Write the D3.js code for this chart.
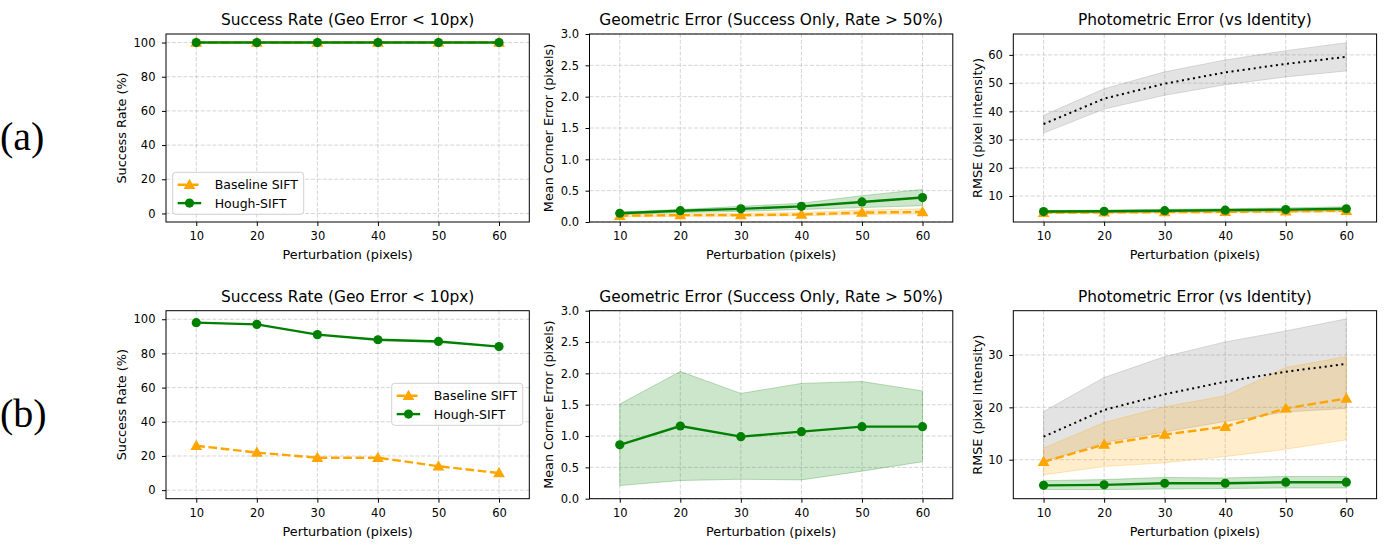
<!DOCTYPE html>
<html>
<head>
<meta charset="utf-8">
<script src="https://cdn.jsdelivr.net/npm/d3@7"></script>
<style>
  html, body { margin: 0; padding: 0; background: #fff; }
  svg { display: block; font-family: "DejaVu Sans", sans-serif; }
</style>
</head>
<body>
<div id="chart"></div>
<script>
const perturb = [10, 20, 30, 40, 50, 60];

// row (a)
const aRateBase = [100, 100, 100, 100, 100, 100];
const aRateHough = [100, 100, 100, 100, 100, 100];

const aGeoBase = [0.10, 0.11, 0.11, 0.12, 0.15, 0.16];
const aGeoBaseLo = [0.08, 0.09, 0.09, 0.10, 0.12, 0.13];
const aGeoBaseHi = [0.12, 0.13, 0.14, 0.15, 0.19, 0.21];
const aGeoHough = [0.14, 0.18, 0.21, 0.25, 0.32, 0.39];
const aGeoHoughLo = [0.12, 0.15, 0.17, 0.20, 0.23, 0.26];
const aGeoHoughHi = [0.16, 0.20, 0.25, 0.30, 0.42, 0.52];

const aPhotoIdent = [35.5, 44.5, 49.8, 53.8, 56.8, 59.3];
const aPhotoIdentLo = [32.3, 40.8, 45.7, 49.4, 52.2, 54.3];
const aPhotoIdentHi = [38.6, 48.0, 54.0, 58.2, 61.5, 64.3];
const aPhotoBase = [4.1, 4.2, 4.3, 4.4, 4.6, 4.8];
const aPhotoBaseLo = [3.8, 3.9, 4.0, 4.0, 4.2, 4.3];
const aPhotoBaseHi = [4.4, 4.5, 4.6, 4.8, 5.0, 5.3];
const aPhotoHough = [4.5, 4.6, 4.8, 5.0, 5.2, 5.5];
const aPhotoHoughLo = [4.1, 4.2, 4.3, 4.5, 4.6, 4.8];
const aPhotoHoughHi = [4.9, 5.0, 5.3, 5.5, 5.8, 6.2];

// row (b)
const bRateBase = [26, 22, 19, 19, 14, 10];
const bRateHough = [98, 97, 91, 88, 87, 84];

const bGeoHough = [0.86, 1.16, 0.99, 1.07, 1.15, 1.15];
const bGeoHoughLo = [0.21, 0.29, 0.31, 0.30, 0.44, 0.59];
const bGeoHoughHi = [1.51, 2.03, 1.68, 1.84, 1.87, 1.72];

const bPhotoIdent = [14.4, 19.5, 22.5, 24.9, 26.8, 28.3];
const bPhotoIdentLo = [9.6, 13.3, 15.3, 17.3, 19.1, 19.8];
const bPhotoIdentHi = [19.2, 25.7, 29.7, 32.5, 34.6, 36.9];
const bPhotoBase = [9.6, 12.9, 14.8, 16.3, 19.8, 21.7];
const bPhotoBaseLo = [7.1, 8.7, 9.4, 10.6, 12.0, 13.8];
const bPhotoBaseHi = [12.2, 17.1, 20.1, 22.2, 27.6, 29.7];
const bPhotoHough = [5.1, 5.2, 5.5, 5.5, 5.7, 5.7];
const bPhotoHoughLo = [4.3, 4.3, 4.4, 4.5, 4.6, 4.6];
const bPhotoHoughHi = [6.0, 6.2, 6.6, 6.5, 6.8, 6.8];

const rowLabels = ["(a)", "(b)"];
const titles = ["Success Rate (Geo Error < 10px)", "Geometric Error (Success Only, Rate > 50%)", "Photometric Error (vs Identity)"];
const yLabels = ["Success Rate (%)", "Mean Corner Error (pixels)", "RMSE (pixel intensity)"];
const xLabel = "Perturbation (pixels)";
const seriesNames = ["Baseline SIFT", "Hough-SIFT"];

const ORANGE = "#ffa500", GREEN = "#008000";

const W = 1391, H = 553;
const svg = d3.select("#chart").append("svg").attr("width", W).attr("height", H);

const colX = [166, 589.5, 1013.3];
const panelW = 363.3;
const rowY = [34, 310.7];
const panelH = 188;

const panels = [
  { row: 0, col: 0, ydom: [-5, 105], yticks: d3.range(0, 101, 20), fmt: d3.format("d"), legend: [172.7, 172.3],
    series: [
      { y: aRateBase, color: ORANGE, kind: "base" },
      { y: aRateHough, color: GREEN, kind: "hough" }] },
  { row: 0, col: 1, ydom: [0, 3], yticks: d3.range(0, 3.01, 0.5), fmt: d3.format(".1f"),
    series: [
      { y: aGeoBase, lo: aGeoBaseLo, hi: aGeoBaseHi, color: ORANGE, kind: "base" },
      { y: aGeoHough, lo: aGeoHoughLo, hi: aGeoHoughHi, color: GREEN, kind: "hough" }] },
  { row: 0, col: 2, ydom: [0.8, 67.4], yticks: d3.range(10, 61, 10), fmt: d3.format("d"),
    series: [
      { y: aPhotoIdent, lo: aPhotoIdentLo, hi: aPhotoIdentHi, color: "#808080", kind: "ident" },
      { y: aPhotoBase, lo: aPhotoBaseLo, hi: aPhotoBaseHi, color: ORANGE, kind: "base" },
      { y: aPhotoHough, lo: aPhotoHoughLo, hi: aPhotoHoughHi, color: GREEN, kind: "hough" }] },
  { row: 1, col: 0, ydom: [-5, 105], yticks: d3.range(0, 101, 20), fmt: d3.format("d"), legend: [391.7, 383.3],
    series: [
      { y: bRateBase, color: ORANGE, kind: "base" },
      { y: bRateHough, color: GREEN, kind: "hough" }] },
  { row: 1, col: 1, ydom: [0, 3], yticks: d3.range(0, 3.01, 0.5), fmt: d3.format(".1f"),
    series: [
      { y: bGeoHough, lo: bGeoHoughLo, hi: bGeoHoughHi, color: GREEN, kind: "hough" }] },
  { row: 1, col: 2, ydom: [2.55, 38.46], yticks: [10, 20, 30], fmt: d3.format("d"),
    series: [
      { y: bPhotoIdent, lo: bPhotoIdentLo, hi: bPhotoIdentHi, color: "#808080", kind: "ident" },
      { y: bPhotoBase, lo: bPhotoBaseLo, hi: bPhotoBaseHi, color: ORANGE, kind: "base" },
      { y: bPhotoHough, lo: bPhotoHoughLo, hi: bPhotoHoughHi, color: GREEN, kind: "hough" }] }
];

const triangle = d3.symbol().type(d3.symbolTriangle).size(60);

function drawMarker(g, kind, color, x, y) {
  if (kind === "hough") {
    g.append("circle").attr("cx", x).attr("cy", y).attr("r", 4.6).attr("fill", color);
  } else if (kind === "base") {
    g.append("path").attr("d", triangle).attr("transform", `translate(${x},${y + 0.8})`).attr("fill", color);
  }
}

panels.forEach(p => {
  const x0 = colX[p.col], y0 = rowY[p.row];
  const g = svg.append("g").attr("transform", `translate(${x0},${y0})`);

  const x = d3.scaleLinear().domain([5, 65]).range([0, panelW]);
  const y = d3.scaleLinear().domain(p.ydom).range([panelH, 0]);

  // grid
  g.append("g").selectAll("line").data(perturb).enter().append("line")
    .attr("x1", d => x(d)).attr("x2", d => x(d)).attr("y1", 0).attr("y2", panelH)
    .attr("stroke", "#b0b0b0").attr("stroke-opacity", 0.6).attr("stroke-width", 0.9).attr("stroke-dasharray", "4 1.8");
  g.append("g").selectAll("line").data(p.yticks).enter().append("line")
    .attr("x1", 0).attr("x2", panelW).attr("y1", d => y(d)).attr("y2", d => y(d))
    .attr("stroke", "#b0b0b0").attr("stroke-opacity", 0.6).attr("stroke-width", 0.9).attr("stroke-dasharray", "4 1.8");

  const plot = g.append("g");

  // bands
  p.series.forEach(s => {
    if (!s.lo) return;
    const area = d3.area().x((d, i) => x(perturb[i])).y0((d, i) => y(s.lo[i])).y1((d, i) => y(s.hi[i]));
    plot.append("path").datum(s.y).attr("d", area)
      .attr("fill", s.color).attr("fill-opacity", s.kind === "ident" ? 0.22 : 0.2)
      .attr("stroke", s.color).attr("stroke-opacity", 0.25).attr("stroke-width", 1);
  });

  // lines
  p.series.forEach(s => {
    const line = d3.line().x((d, i) => x(perturb[i])).y(d => y(d));
    const path = plot.append("path").datum(s.y).attr("d", line).attr("fill", "none");
    if (s.kind === "ident") {
      path.attr("stroke", "#000").attr("stroke-width", 2).attr("stroke-dasharray", "2 3.6");
    } else if (s.kind === "base") {
      path.attr("stroke", s.color).attr("stroke-width", 2.4).attr("stroke-dasharray", "8.6 3.7");
    } else {
      path.attr("stroke", s.color).attr("stroke-width", 2.4);
    }
    s.y.forEach((v, i) => drawMarker(plot, s.kind, s.color, x(perturb[i]), y(v)));
  });

  // axes
  const xa = g.append("g").attr("transform", `translate(0,${panelH})`)
    .call(d3.axisBottom(x).tickValues(perturb).tickSize(4).tickPadding(6).tickFormat(d3.format("d")));
  const ya = g.append("g")
    .call(d3.axisLeft(y).tickValues(p.yticks).tickSize(4).tickPadding(6.5).tickFormat(p.fmt));
  [xa, ya].forEach(a => {
    a.select(".domain").remove();
    a.selectAll("line").attr("stroke", "#000").attr("stroke-width", 1);
    a.selectAll("text").attr("fill", "#000").style("font-size", "11.5px").style("font-family", "DejaVu Sans");
  });

  g.append("rect").attr("x", 0).attr("y", 0).attr("width", panelW).attr("height", panelH)
    .attr("fill", "none").attr("stroke", "#000").attr("stroke-width", 1);

  // titles and labels
  g.append("text").attr("x", panelW / 2).attr("y", -9).attr("text-anchor", "middle")
    .style("font-size", "15.4px").text(titles[p.col]);
  g.append("text").attr("x", panelW / 2).attr("y", panelH + 37).attr("text-anchor", "middle")
    .style("font-size", "12.8px").text(xLabel);
  const ylx = [-40.5, -37, -31.8][p.col];
  g.append("text").attr("transform", `translate(${ylx},${panelH / 2}) rotate(-90)`).attr("text-anchor", "middle")
    .style("font-size", "12.8px").text(yLabels[p.col]);

  // legend
  if (p.legend) {
    const lg = svg.append("g").attr("transform", `translate(${p.legend[0]},${p.legend[1]})`);
    lg.append("rect").attr("width", 131).attr("height", 42).attr("rx", 3)
      .attr("fill", "#fff").attr("fill-opacity", 0.8).attr("stroke", "#d0d0d0").attr("stroke-width", 1);
    const kinds = [["base", ORANGE], ["hough", GREEN]];
    kinds.forEach(([k, c], i) => {
      const cy = 12.5 + i * 18.3;
      lg.append("line").attr("x1", 5).attr("x2", 28.5).attr("y1", cy).attr("y2", cy)
        .attr("stroke", c).attr("stroke-width", 2.4).attr("stroke-dasharray", k === "base" ? "8.6 3.7" : null);
      drawMarker(lg, k, c, 16.8, cy);
      lg.append("text").attr("x", 42).attr("y", cy + 4.5).style("font-size", "12.5px").text(seriesNames[i]);
    });
  }
});

// row labels
rowLabels.forEach((t, i) => {
  svg.append("text").attr("x", 0).attr("y", [150, 426.5][i])
    .style("font-family", "'Liberation Serif', 'DejaVu Serif', serif").style("font-size", "40px")
    .text(t);
});
</script>
</body>
</html>
